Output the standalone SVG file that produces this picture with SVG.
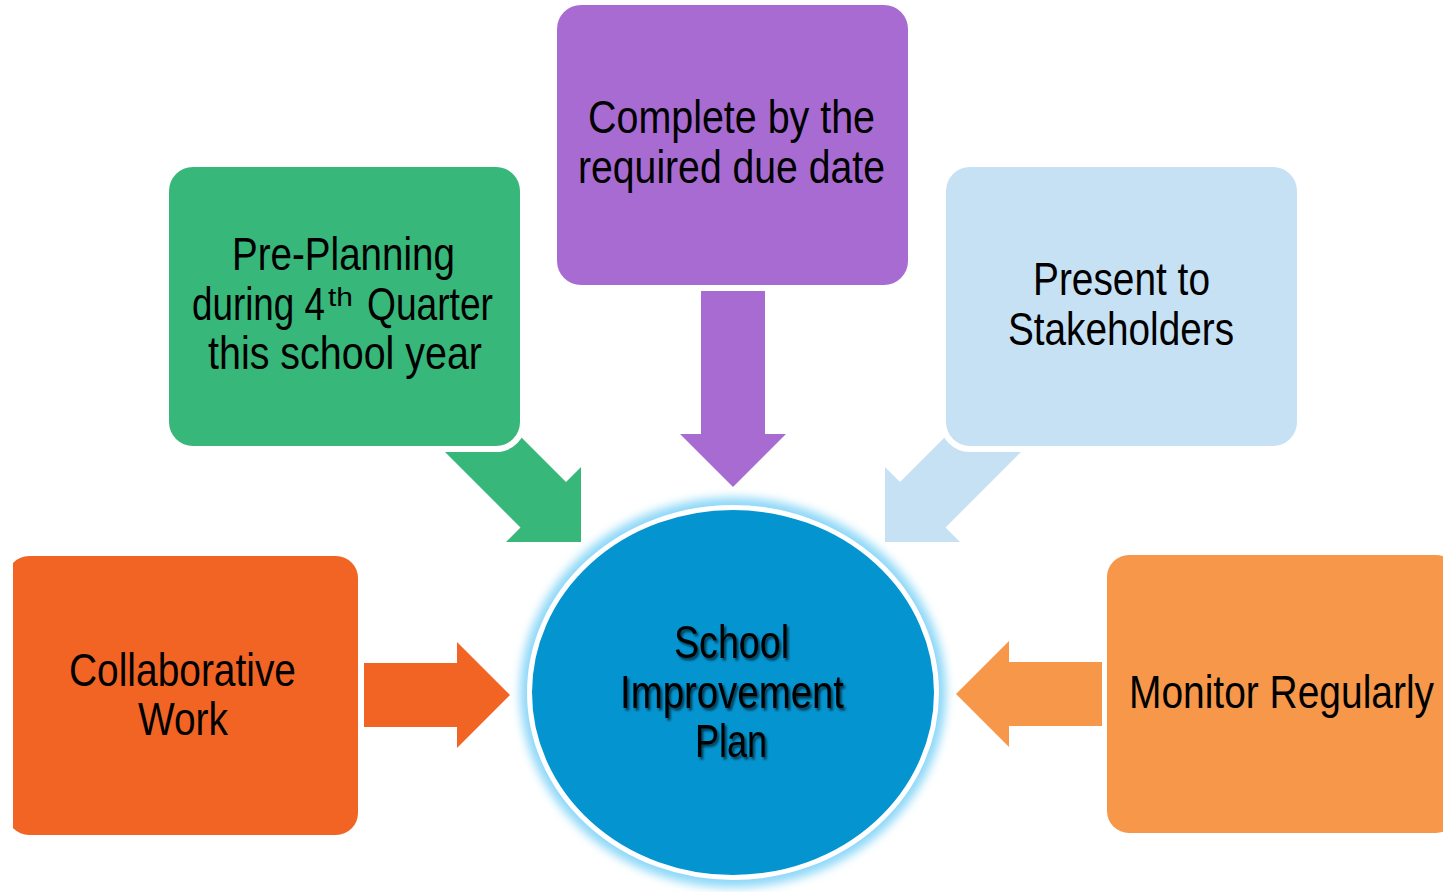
<svg xmlns="http://www.w3.org/2000/svg" width="1443" height="892" viewBox="0 0 1443 892">
<defs>
<style>
.lbl{font-family:"Liberation Sans Narrow","Arial Narrow","Liberation Sans",Arial,sans-serif;font-size:47px;fill:#000;text-anchor:start}
.box{stroke:#fff;stroke-width:12;paint-order:stroke}
</style>
<clipPath id="clipL"><rect x="13" y="0" width="1430" height="892"/></clipPath>
<filter id="glow" x="-20%" y="-20%" width="140%" height="140%"><feGaussianBlur stdDeviation="5"/></filter>
<filter id="tshadow" x="-10%" y="-20%" width="120%" height="150%"><feDropShadow dx="2" dy="2.5" stdDeviation="1.2" flood-color="#000" flood-opacity="0.6"/></filter>
</defs>
<rect width="1443" height="892" fill="#fff"/>

<g id="connectors">
<polygon id="arrow-green" fill="#37B77A" points="400,407 520.5,527.5 506,542 581,542 581,467 566,482 445.5,361.5"/>
<polygon id="arrow-purple" fill="#A86BD2" points="701,250 765,250 765,434 786,434 733,487 680,434 701,434"/>
<polygon id="arrow-lightblue" fill="#C7E1F4" points="1066,407 945.5,527.5 960,542 885,542 885,467 900,482 1020.5,361.5"/>
<polygon id="arrow-orange" fill="#F26424" points="364,663 457,663 457,642 510,695 457,748 457,727 364,727"/>
<polygon id="arrow-lightorange" fill="#F6974A" points="1102,662 1009,662 1009,641 956,694 1009,747 1009,726 1102,726"/>
</g>

<g id="node-center">
<ellipse cx="733" cy="692.5" rx="213" ry="195" fill="#8ED8F8" filter="url(#glow)"/>
<ellipse cx="733" cy="692.5" rx="203.5" ry="185" fill="#0494D0" stroke="#fff" stroke-width="5"/>
<g filter="url(#tshadow)">
<text class="lbl" x="674" y="658" textLength="115" lengthAdjust="spacingAndGlyphs">School</text>
<text class="lbl" x="620" y="708" textLength="224" lengthAdjust="spacingAndGlyphs">Improvement</text>
<text class="lbl" x="695" y="757" textLength="72" lengthAdjust="spacingAndGlyphs">Plan</text>
</g>
</g>

<g id="node-preplanning">
<rect class="box" x="169" y="167" width="351" height="279" rx="24" fill="#37B77A"/>
<text class="lbl" x="232" y="270" textLength="223" lengthAdjust="spacingAndGlyphs">Pre-Planning</text>
<text class="lbl" x="192" y="320" textLength="133" lengthAdjust="spacingAndGlyphs">during 4</text>
<text class="lbl" x="328" y="306" style="font-size:26px" textLength="25" lengthAdjust="spacingAndGlyphs">th</text>
<text class="lbl" x="367" y="320" textLength="126" lengthAdjust="spacingAndGlyphs">Quarter</text>
<text class="lbl" x="208" y="369" textLength="274" lengthAdjust="spacingAndGlyphs">this school year</text>
</g>

<g id="node-complete">
<rect class="box" x="557" y="5" width="351" height="280" rx="24" fill="#A86BD2"/>
<text class="lbl" x="588" y="133" textLength="287" lengthAdjust="spacingAndGlyphs">Complete by the</text>
<text class="lbl" x="578" y="183" textLength="307" lengthAdjust="spacingAndGlyphs">required due date</text>
</g>

<g id="node-present">
<rect class="box" x="946" y="167" width="351" height="279" rx="24" fill="#C7E1F4"/>
<text class="lbl" x="1033" y="295" textLength="177" lengthAdjust="spacingAndGlyphs">Present to</text>
<text class="lbl" x="1008" y="345" textLength="226" lengthAdjust="spacingAndGlyphs">Stakeholders</text>
</g>

<g id="node-collaborative">
<g clip-path="url(#clipL)">
<rect x="7" y="556" width="351" height="279" rx="22" fill="#F26424"/>
</g>
<text class="lbl" x="69" y="686" textLength="227" lengthAdjust="spacingAndGlyphs">Collaborative</text>
<text class="lbl" x="138" y="735" textLength="90" lengthAdjust="spacingAndGlyphs">Work</text>
</g>

<g id="node-monitor">
<rect x="1107" y="555" width="351" height="278" rx="22" fill="#F6974A"/>
<text class="lbl" x="1129" y="708" textLength="305" lengthAdjust="spacingAndGlyphs">Monitor Regularly</text>
</g>
</svg>
